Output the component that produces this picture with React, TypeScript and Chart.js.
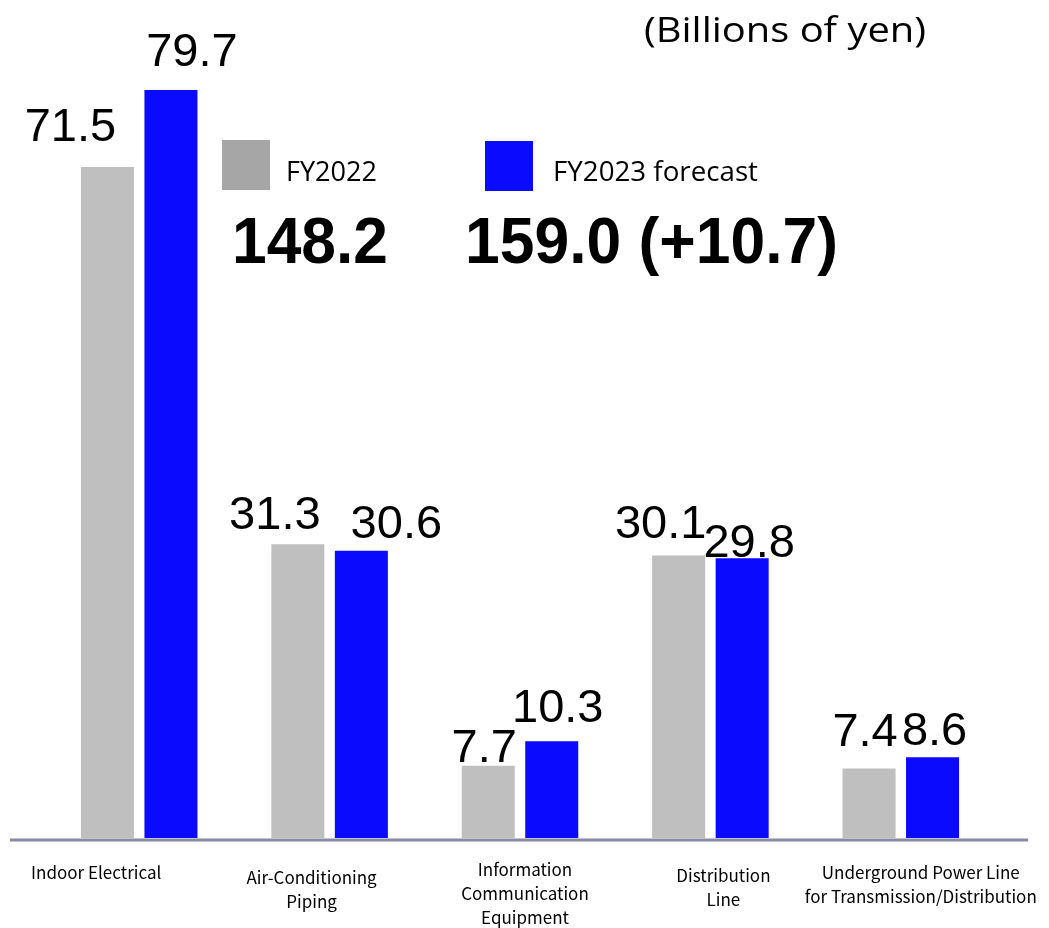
import React, { useEffect, useRef } from "react";
import { Chart, registerables } from "chart.js";

Chart.register(...registerables);

// ---- Data ----
const categories: string[][] = [
  ["Indoor Electrical"],
  ["Air-Conditioning", "Piping"],
  ["Information", "Communication", "Equipment"],
  ["Distribution", "Line"],
  ["Underground Power Line", "for Transmission/Distribution"],
];
const seriesNames = ["FY2022", "FY2023 forecast"];
const fy2022 = [71.5, 31.3, 7.7, 30.1, 7.4];
const fy2023 = [79.7, 30.6, 10.3, 29.8, 8.6];
const totalLabels = ["148.2", "159.0 (+10.7)"];
const unitLabel = "(Billions of yen)";

// ---- Style (label placement tweaks) ----
const labelDx = [
  [-37, -23, -4, -18, -4],
  [21, 35, 6, 7, 2],
];
const labelGap = [
  [26, 15, 4, 17, 23],
  [24, 13, 19, 1, 12],
];
const catDx = [-43, -18, 5, 13, 20];
const catTop = [35, 40, 32, 38, 35];
const catLineH = 24;

const GRAY = "#BFBFBF";
const LEGEND_GRAY = "#A6A6A6";
const BLUE = "#0A0AFF";
const AXIS = "#8A8AA2";

function fitText(ctx: CanvasRenderingContext2D, text: string, x: number, y: number, width: number) {
  const w = ctx.measureText(text).width;
  const sx = width / w;
  ctx.save();
  ctx.translate(x, y);
  ctx.scale(sx, 1);
  ctx.textAlign = "left";
  ctx.fillText(text, 0, 0);
  ctx.restore();
}

const overlayPlugin = {
  id: "overlay",
  afterDatasetsDraw(chart: any) {
    const ctx = chart.ctx as CanvasRenderingContext2D;
    const y = chart.scales.y;
    const x = chart.scales.x;
    const zeroY = y.getPixelForValue(0);
    ctx.save();

    // axis line
    ctx.strokeStyle = AXIS;
    ctx.lineWidth = 3;
    ctx.beginPath();
    ctx.moveTo(10, zeroY + 2);
    ctx.lineTo(1028, zeroY + 2);
    ctx.stroke();

    // value labels
    ctx.fillStyle = "#000";
    ctx.font = '47px "Liberation Sans", Arial, sans-serif';
    ctx.textAlign = "center";
    ctx.textBaseline = "alphabetic";
    chart.data.datasets.forEach((ds: any, di: number) => {
      const meta = chart.getDatasetMeta(di);
      meta.data.forEach((bar: any, i: number) => {
        const v = ds.data[i];
        ctx.fillText(v.toFixed(1), bar.x + labelDx[di][i], bar.y - labelGap[di][i]);
      });
    });

    // category labels
    ctx.font = '17px "Noto Sans CJK JP", sans-serif';
    ctx.textBaseline = "middle";
    categories.forEach((lines, i) => {
      const cx = x.getPixelForValue(i) + catDx[i];
      lines.forEach((ln, li) => {
        ctx.fillText(ln, cx, zeroY + catTop[i] + li * catLineH);
      });
    });

    // legend
    ctx.textAlign = "left";
    ctx.fillStyle = LEGEND_GRAY;
    ctx.fillRect(222, 140, 48, 50);
    ctx.fillStyle = BLUE;
    ctx.fillRect(485, 141, 48, 50);
    ctx.fillStyle = "#000";
    ctx.font = '28px "Open Sans", sans-serif';
    ctx.textBaseline = "alphabetic";
    fitText(ctx, seriesNames[0], 286, 181, 91);
    fitText(ctx, seriesNames[1], 553, 181, 205);

    // totals
    ctx.font = 'bold 65px "Liberation Sans", Arial, sans-serif';
    fitText(ctx, totalLabels[0], 232, 263, 156);
    fitText(ctx, totalLabels[1], 465, 263, 373);

    // unit label
    ctx.font = '34px "Open Sans", sans-serif';
    fitText(ctx, unitLabel, 644, 42, 282);

    ctx.restore();
  },
};

export default function App() {
  const ref = useRef<HTMLCanvasElement>(null);
  useEffect(() => {
    if (!ref.current) return;
    const chart = new Chart(ref.current, {
      type: "bar",
      data: {
        labels: categories.map((c) => c.join(" ")),
        datasets: [
          { label: seriesNames[0], data: fy2022, backgroundColor: GRAY, borderWidth: 0 },
          { label: seriesNames[1], data: fy2023, backgroundColor: BLUE, borderWidth: 0 },
        ],
      },
      options: {
        responsive: false,
        animation: false,
        layout: { padding: { left: 44, right: 53, top: 12, bottom: 90 } },
        datasets: { bar: { categoryPercentage: 0.667, barPercentage: 0.835 } },
        plugins: { legend: { display: false }, tooltip: { enabled: false } },
        scales: {
          x: { display: false, offset: true },
          y: { display: false, min: 0, max: 88 },
        },
      },
      plugins: [overlayPlugin],
    });
    return () => chart.destroy();
  }, []);
  return (
    <div style={{ position: "fixed", left: 0, top: 0, width: 1049, height: 928, background: "#fff" }}>
      <canvas ref={ref} width={1049} height={928} style={{ display: "block" }} />
    </div>
  );
}
